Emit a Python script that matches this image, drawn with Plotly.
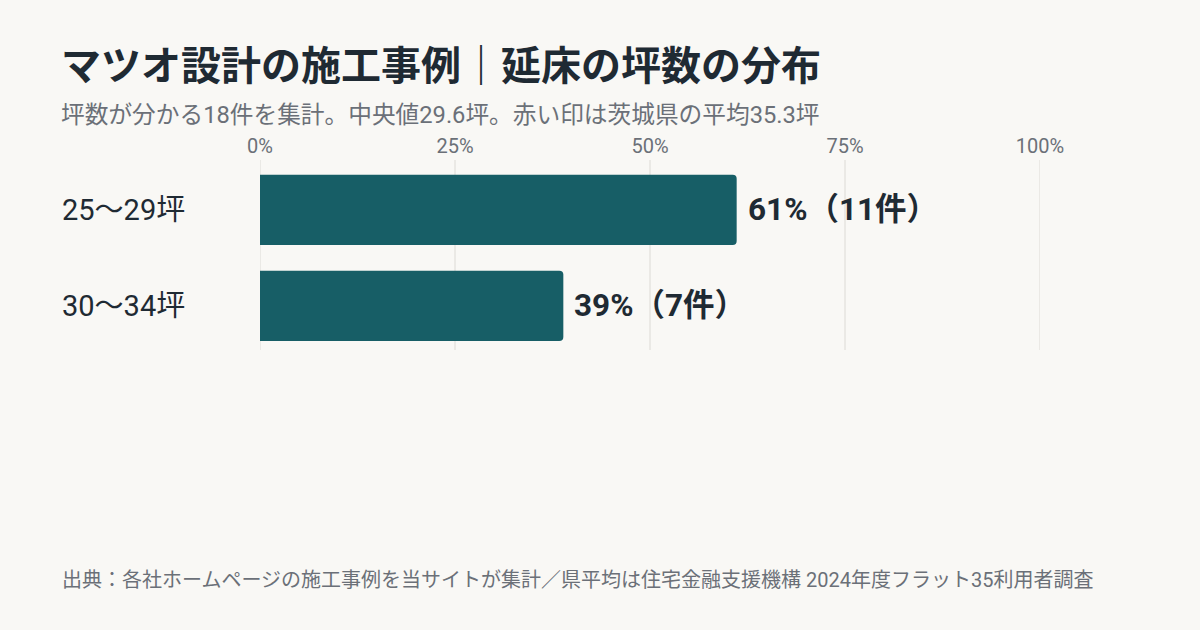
import plotly.graph_objects as go

categories = ["25〜29坪", "30〜34坪"]
counts = [11, 7]
total = 18
x_ticks = [0, 25, 50, 75, 100]
x_tick_labels = ["0%", "25%", "50%", "75%", "100%"]

title = "マツオ設計の施工事例｜延床の坪数の分布"
subtitle = "坪数が分かる18件を集計。中央値29.6坪。赤い印は茨城県の平均35.3坪"
source = "出典：各社ホームページの施工事例を当サイトが集計／県平均は住宅金融支援機構 2024年度フラット35利用者調査"

pcts = [c / total * 100 for c in counts]
FONT = "Roboto, 'Noto Sans CJK JP'"
CJK = "'Noto Sans CJK JP'"
BG = "#F9F8F5"
BAR = "#175E66"
DARK = "#1F2A33"
GRAY = "#6B7078"
GRID = "#DCDAD5"

L, R, T, B = 260, 160, 160, 280
W, H = 1200, 630
pw, ph = W - L - R, H - T - B

fig = go.Figure()
fig.add_trace(go.Bar(
    x=pcts, y=categories, orientation="h", width=0.73,
    marker=dict(color=BAR, line=dict(width=0)),
    hoverinfo="skip",
))

shapes = [
    dict(type="line", xref="x", yref="paper", x0=t, x1=t, y0=0, y1=1,
         line=dict(color=GRID, width=1), layer="below")
    for t in x_ticks
]

annotations = []
for cat, p, c in zip(categories, pcts, counts):
    annotations.append(dict(
        x=p, y=cat, xref="x", yref="y", xanchor="left", yanchor="middle",
        xshift=9, showarrow=False,
        text=f"<b>{round(p)}%（{c}件）</b>",
        font=dict(family=FONT, size=31.5, color=DARK),
    ))
    annotations.append(dict(
        x=(60 - L) / pw, y=cat, xref="paper", yref="y", xanchor="left", yanchor="middle",
        showarrow=False, text=cat,
        font=dict(family=FONT, size=29, color=DARK),
    ))

header = [
    (59, 63, f"<b>{title}</b>", CJK, 40, DARK),
    (59, 115, subtitle, FONT, 23.7, GRAY),
    (60, 580, source, FONT, 20, GRAY),
]
for px, py, txt, fam, sz, col in header:
    annotations.append(dict(
        x=(px - L) / pw, y=1 - (py - T) / ph, xref="paper", yref="paper",
        xanchor="left", yanchor="middle", showarrow=False, text=txt,
        font=dict(family=fam, size=sz, color=col),
    ))

fig.update_layout(
    width=W, height=H,
    paper_bgcolor=BG, plot_bgcolor=BG,
    margin=dict(l=L, r=R, t=T, b=B),
    showlegend=False,
    barcornerradius=4,
    annotations=annotations,
    shapes=shapes,
    font=dict(family=FONT),
    xaxis=dict(
        side="top", range=[0, 100], tickvals=x_ticks, ticktext=x_tick_labels,
        showgrid=False, zeroline=False,
        showline=False, ticks="", tickfont=dict(family=FONT, size=20, color=GRAY),
        ticklabelstandoff=2, fixedrange=True,
    ),
    yaxis=dict(
        range=[1.46, -0.52], showticklabels=False, showgrid=False, zeroline=False,
        showline=False, ticks="", fixedrange=True,
    ),
)

fig.write_html(
    "out.html",
    config={"displayModeBar": False},
    post_script="document.body.style.margin='0';document.body.style.background='#F9F8F5';",
)
